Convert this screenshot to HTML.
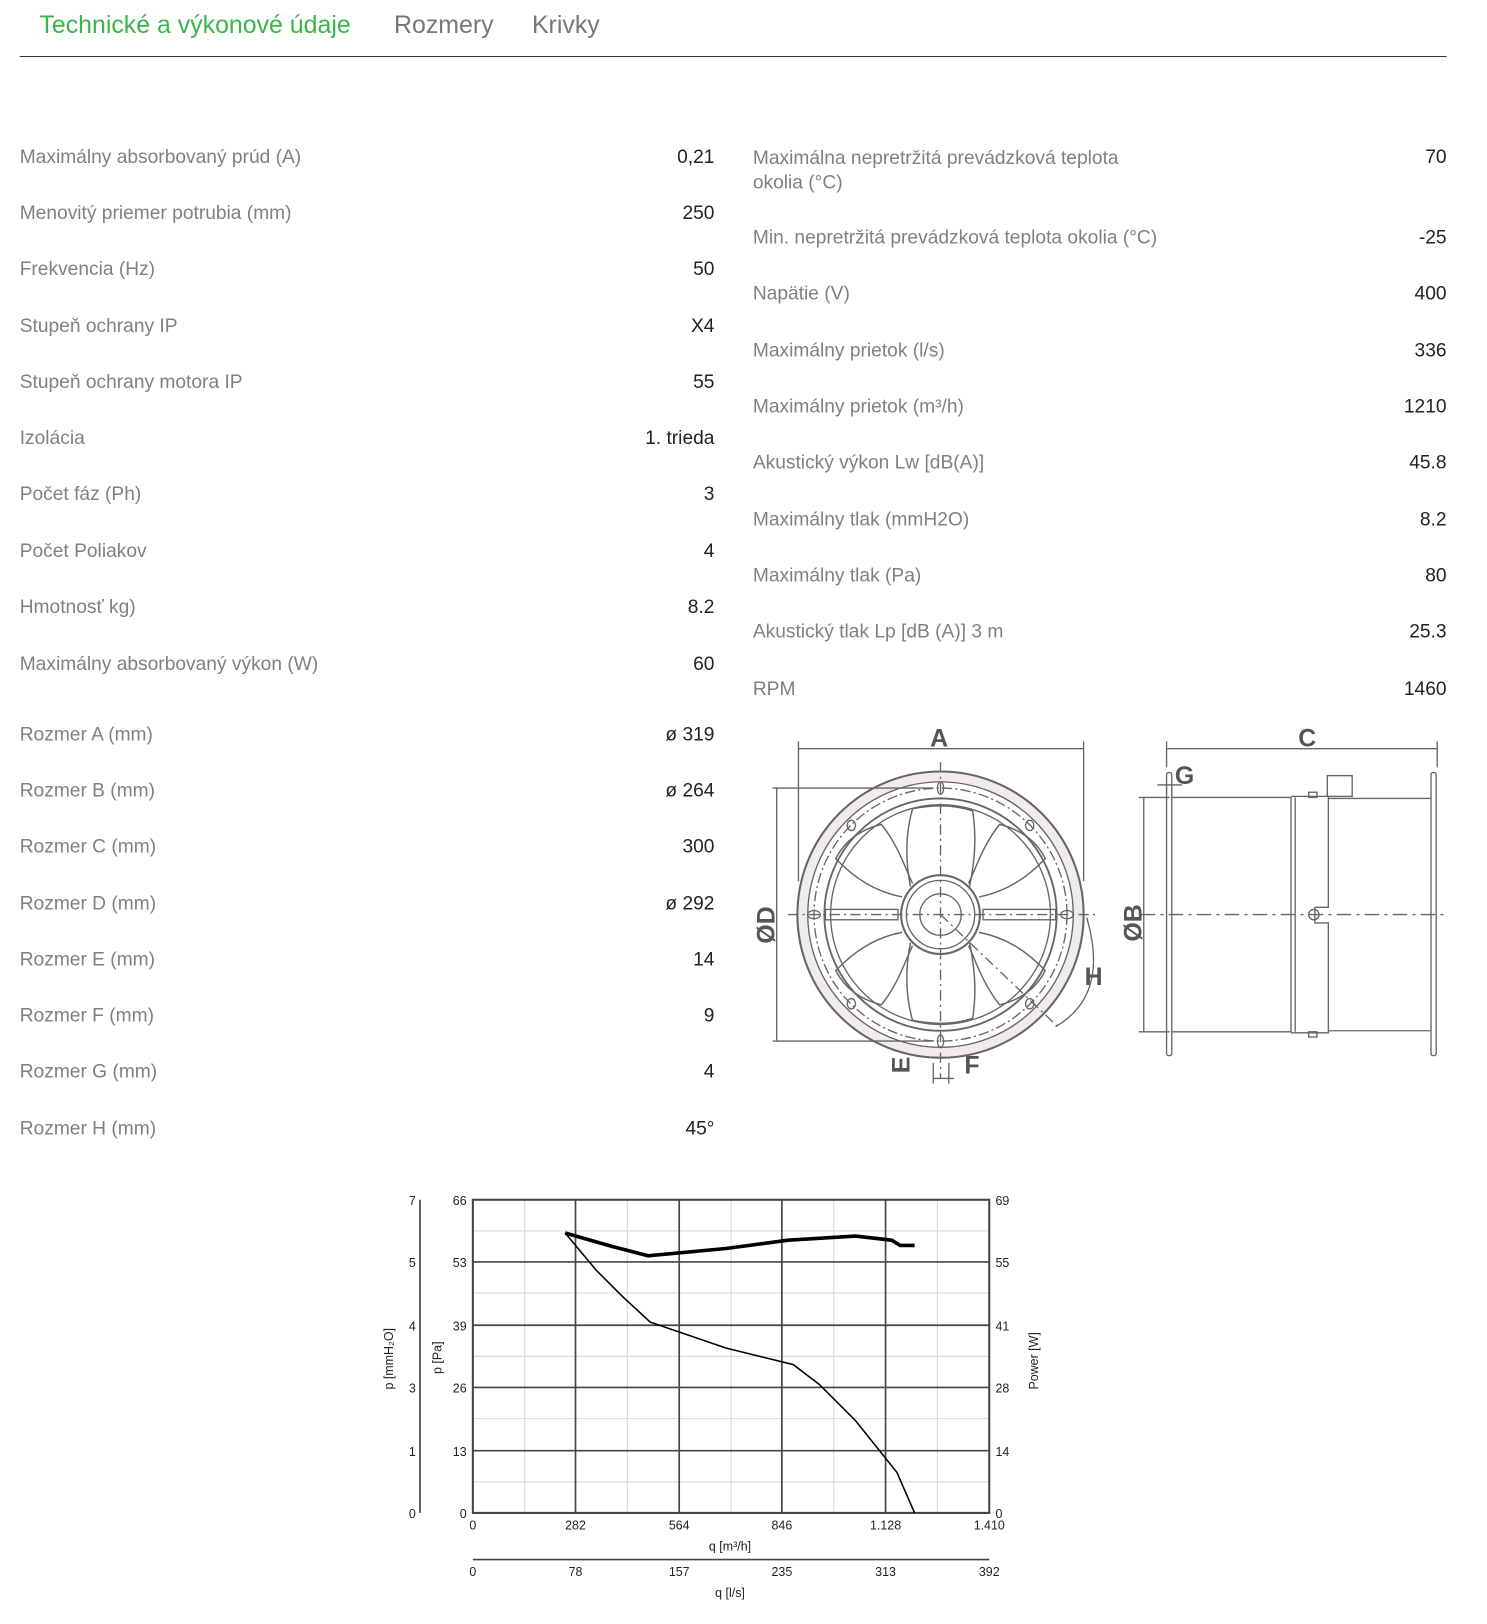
<!DOCTYPE html>
<html><head><meta charset="utf-8"><style>
html,body{margin:0;padding:0;background:#fff;width:1487px;height:1624px;overflow:hidden}
#w{position:absolute;left:0;top:0;width:1434px;height:1566px;transform:scale(1.03696);transform-origin:0 0;font-family:"Liberation Sans",sans-serif}
.t{position:absolute;font-size:24px;color:#777;top:11px}
.l{position:absolute;font-size:18.5px;color:#808080;white-space:nowrap}
.v{position:absolute;font-size:18.5px;color:#222;text-align:right;white-space:nowrap}
</style></head><body><div id="w">
<div class="t" style="left:38px;color:#3bb54a">Technické a výkonové údaje</div>
<div class="t" style="left:380px">Rozmery</div>
<div class="t" style="left:513px">Krivky</div>
<div style="position:absolute;left:19px;top:54px;width:1376px;height:1px;background:#333"></div>

<div class="l" style="left:19px;top:140px">Maximálny absorbovaný prúd (A)</div><div class="v" style="right:745px;top:140px">0,21</div>
<div class="l" style="left:19px;top:194px">Menovitý priemer potrubia (mm)</div><div class="v" style="right:745px;top:194px">250</div>
<div class="l" style="left:19px;top:248px">Frekvencia (Hz)</div><div class="v" style="right:745px;top:248px">50</div>
<div class="l" style="left:19px;top:303px">Stupeň ochrany IP</div><div class="v" style="right:745px;top:303px">X4</div>
<div class="l" style="left:19px;top:357px">Stupeň ochrany motora IP</div><div class="v" style="right:745px;top:357px">55</div>
<div class="l" style="left:19px;top:411px">Izolácia</div><div class="v" style="right:745px;top:411px">1. trieda</div>
<div class="l" style="left:19px;top:465px">Počet fáz (Ph)</div><div class="v" style="right:745px;top:465px">3</div>
<div class="l" style="left:19px;top:520px">Počet Poliakov</div><div class="v" style="right:745px;top:520px">4</div>
<div class="l" style="left:19px;top:574px">Hmotnosť kg)</div><div class="v" style="right:745px;top:574px">8.2</div>
<div class="l" style="left:19px;top:629px">Maximálny absorbovaný výkon (W)</div><div class="v" style="right:745px;top:629px">60</div>
<div class="l" style="left:19px;top:697px">Rozmer A (mm)</div><div class="v" style="right:745px;top:697px">ø 319</div>
<div class="l" style="left:19px;top:751px">Rozmer B (mm)</div><div class="v" style="right:745px;top:751px">ø 264</div>
<div class="l" style="left:19px;top:805px">Rozmer C (mm)</div><div class="v" style="right:745px;top:805px">300</div>
<div class="l" style="left:19px;top:860px">Rozmer D (mm)</div><div class="v" style="right:745px;top:860px">ø 292</div>
<div class="l" style="left:19px;top:914px">Rozmer E (mm)</div><div class="v" style="right:745px;top:914px">14</div>
<div class="l" style="left:19px;top:968px">Rozmer F (mm)</div><div class="v" style="right:745px;top:968px">9</div>
<div class="l" style="left:19px;top:1022px">Rozmer G (mm)</div><div class="v" style="right:745px;top:1022px">4</div>
<div class="l" style="left:19px;top:1077px">Rozmer H (mm)</div><div class="v" style="right:745px;top:1077px">45°</div>

<div class="l" style="left:726px;top:140px;line-height:24px">Maximálna nepretržitá prevádzková teplota<br>okolia (°C)</div><div class="v" style="right:39px;top:140px">70</div>
<div class="l" style="left:726px;top:218px">Min. nepretržitá prevádzková teplota okolia (°C)</div><div class="v" style="right:39px;top:218px">-25</div>
<div class="l" style="left:726px;top:272px">Napätie (V)</div><div class="v" style="right:39px;top:272px">400</div>
<div class="l" style="left:726px;top:327px">Maximálny prietok (l/s)</div><div class="v" style="right:39px;top:327px">336</div>
<div class="l" style="left:726px;top:381px">Maximálny prietok (m³/h)</div><div class="v" style="right:39px;top:381px">1210</div>
<div class="l" style="left:726px;top:435px">Akustický výkon Lw [dB(A)]</div><div class="v" style="right:39px;top:435px">45.8</div>
<div class="l" style="left:726px;top:490px">Maximálny tlak (mmH2O)</div><div class="v" style="right:39px;top:490px">8.2</div>
<div class="l" style="left:726px;top:544px">Maximálny tlak (Pa)</div><div class="v" style="right:39px;top:544px">80</div>
<div class="l" style="left:726px;top:598px">Akustický tlak Lp [dB (A)] 3 m</div><div class="v" style="right:39px;top:598px">25.3</div>
<div class="l" style="left:726px;top:653px">RPM</div><div class="v" style="right:39px;top:653px">1460</div>

<svg style="position:absolute;left:0;top:0" width="1434" height="1566">
<g fill="none" stroke="#666" stroke-width="1.3">
<circle cx="907" cy="882" r="133" stroke="#f0ecea" stroke-width="10"/>
<circle cx="907" cy="882" r="138" stroke-width="2"/>
<circle cx="907" cy="882" r="128"/>
<circle cx="907" cy="882" r="122" stroke-dasharray="10 3 2 3"/>
<circle cx="907" cy="882" r="112" stroke-width="1.8"/>
<circle cx="907" cy="882" r="106"/>
<circle cx="907" cy="882" r="38" stroke-width="2"/>
<circle cx="907" cy="882" r="33"/>
<circle cx="907" cy="882" r="20"/>
<g stroke-width="1.4">
<path d="M878 855 C873 830 873 805 880 780 C900 776 920 776 938 782 C942 808 940 830 935 855"/>
<path d="M878 909 C873 934 873 959 880 984 C900 988 920 988 938 982 C942 956 940 934 935 909"/>
<path d="M870 865 C845 860 825 848 806 828 C815 810 830 800 850 795 C866 815 872 835 880 852"/>
<path d="M944 865 C969 860 989 848 1008 828 C999 810 984 800 964 795 C948 815 942 835 934 852"/>
<path d="M870 899 C845 904 825 916 806 936 C815 954 830 964 850 969 C866 949 872 929 880 912"/>
<path d="M944 899 C969 904 989 916 1008 936 C999 954 984 964 964 969 C948 949 942 929 934 912"/>
</g>
<ellipse cx="907" cy="760" rx="3" ry="6"/><ellipse cx="907" cy="1004" rx="3" ry="6"/>
<ellipse cx="785" cy="882" rx="6" ry="4"/><ellipse cx="1029" cy="882" rx="6" ry="4"/>
<ellipse cx="821" cy="796" rx="4" ry="5"/><ellipse cx="993" cy="796" rx="4" ry="5"/>
<ellipse cx="821" cy="968" rx="4" ry="5"/><ellipse cx="993" cy="968" rx="4" ry="5"/>
<rect x="796" y="877" width="70" height="10"/><rect x="948" y="877" width="70" height="10"/>
<line x1="907" y1="735" x2="907" y2="1040" stroke-dasharray="10 4 2 4"/>
<line x1="760" y1="882" x2="1060" y2="882" stroke-dasharray="10 4 2 4"/>
<line x1="907" y1="882" x2="1020" y2="990" stroke-dasharray="10 4 2 4"/>
<line x1="770" y1="722" x2="1045" y2="722"/><line x1="770" y1="715" x2="770" y2="850"/><line x1="1045" y1="715" x2="1045" y2="850"/>
<line x1="749" y1="760" x2="749" y2="1004"/><line x1="745" y1="760" x2="900" y2="760"/><line x1="745" y1="1004" x2="900" y2="1004"/>
<path d="M1048 885 Q1070 960 1018 990"/>
<line x1="900" y1="1040" x2="920" y2="1040"/><line x1="900" y1="1025" x2="900" y2="1045"/><line x1="915" y1="1025" x2="915" y2="1045"/>
<rect x="1125" y="745" width="5" height="273" rx="2"/><rect x="1380" y="745" width="5" height="273" rx="2"/>
<path d="M1130 769 L1245 769 L1245 995 L1130 995"/>
<path d="M1245 768 L1281 768 L1281 875 L1268 875 L1268 890 L1281 890 L1281 996 L1245 996"/>
<line x1="1281" y1="770" x2="1380" y2="770"/><line x1="1281" y1="994" x2="1380" y2="994"/>
<line x1="1249" y1="769" x2="1249" y2="995"/>
<circle cx="1267" cy="882" r="5"/>
<rect x="1280" y="748" width="24" height="20"/><rect x="1262" y="764" width="8" height="5"/><rect x="1262" y="995" width="8" height="5"/>
<line x1="1125" y1="722" x2="1386" y2="722"/><line x1="1125" y1="715" x2="1125" y2="740"/><line x1="1386" y1="715" x2="1386" y2="740"/>
<line x1="1103" y1="769" x2="1103" y2="995"/><line x1="1098" y1="769" x2="1128" y2="769"/><line x1="1098" y1="995" x2="1128" y2="995"/>
<line x1="1116" y1="757" x2="1140" y2="757"/>
<line x1="1100" y1="882" x2="1395" y2="882" stroke-dasharray="14 5 3 5"/>
</g>
<g font-family="Liberation Sans" font-weight="bold" font-size="24" fill="#555">
<text x="897" y="720">A</text><text x="1252" y="720">C</text><text x="1133" y="756">G</text>
<text x="1046" y="950">H</text><text x="930" y="1035">F</text>
<text transform="translate(747,910) rotate(-90)">ØD</text>
<text transform="translate(1101,908) rotate(-90)">ØB</text>
<text transform="translate(877,1035) rotate(-90)">E</text>
</g>

<g stroke="#ddd" stroke-width="1.2">
<line x1="506" y1="1157" x2="506" y2="1459"/><line x1="605" y1="1157" x2="605" y2="1459"/><line x1="705" y1="1157" x2="705" y2="1459"/><line x1="804" y1="1157" x2="804" y2="1459"/><line x1="904" y1="1157" x2="904" y2="1459"/>
<line x1="456" y1="1187" x2="954" y2="1187"/><line x1="456" y1="1247" x2="954" y2="1247"/><line x1="456" y1="1308" x2="954" y2="1308"/><line x1="456" y1="1368" x2="954" y2="1368"/><line x1="456" y1="1429" x2="954" y2="1429"/>
</g>
<g stroke="#444" stroke-width="1.6" fill="none">
<line x1="555" y1="1157" x2="555" y2="1459"/><line x1="655" y1="1157" x2="655" y2="1459"/><line x1="754" y1="1157" x2="754" y2="1459"/><line x1="854" y1="1157" x2="854" y2="1459"/>
<line x1="456" y1="1217" x2="954" y2="1217"/><line x1="456" y1="1278" x2="954" y2="1278"/><line x1="456" y1="1338" x2="954" y2="1338"/><line x1="456" y1="1399" x2="954" y2="1399"/>
<rect x="456" y="1157" width="498" height="302" stroke-width="2"/>
<line x1="405" y1="1157" x2="405" y2="1459"/>
<line x1="456" y1="1504" x2="954" y2="1504"/>
<polyline stroke="#000" stroke-width="3.5" points="545,1189 590,1202 625,1211 700,1204 760,1196 825,1192 860,1196 868,1201 882,1201"/>
<polyline stroke="#000" stroke-width="1.5" points="545,1189 575,1225 600,1250 627,1275 700,1300 765,1316 790,1335 825,1370 865,1420 882,1459"/>
</g>
<g font-family="Liberation Sans" font-size="12" fill="#222">
<g text-anchor="end"><text x="401" y="1162">7</text><text x="401" y="1222">5</text><text x="401" y="1283">4</text><text x="401" y="1343">3</text><text x="401" y="1404">1</text><text x="401" y="1464">0</text>
<text x="450" y="1162">66</text><text x="450" y="1222">53</text><text x="450" y="1283">39</text><text x="450" y="1343">26</text><text x="450" y="1404">13</text><text x="450" y="1464">0</text></g>
<text x="960" y="1162">69</text><text x="960" y="1222">55</text><text x="960" y="1283">41</text><text x="960" y="1343">28</text><text x="960" y="1404">14</text><text x="960" y="1464">0</text>
<g text-anchor="middle"><text x="456" y="1475">0</text><text x="555" y="1475">282</text><text x="655" y="1475">564</text><text x="754" y="1475">846</text><text x="854" y="1475">1.128</text><text x="954" y="1475">1.410</text>
<text x="704" y="1495">q [m³/h]</text>
<text x="456" y="1520">0</text><text x="555" y="1520">78</text><text x="655" y="1520">157</text><text x="754" y="1520">235</text><text x="854" y="1520">313</text><text x="954" y="1520">392</text>
<text x="704" y="1540">q [l/s]</text></g>
<text transform="translate(379,1340) rotate(-90)">p [mmH₂O]</text>
<text transform="translate(426,1325) rotate(-90)">p [Pa]</text>
<text transform="translate(1001,1340) rotate(-90)">Power [W]</text>
</g>
</svg>
</div></body></html>
